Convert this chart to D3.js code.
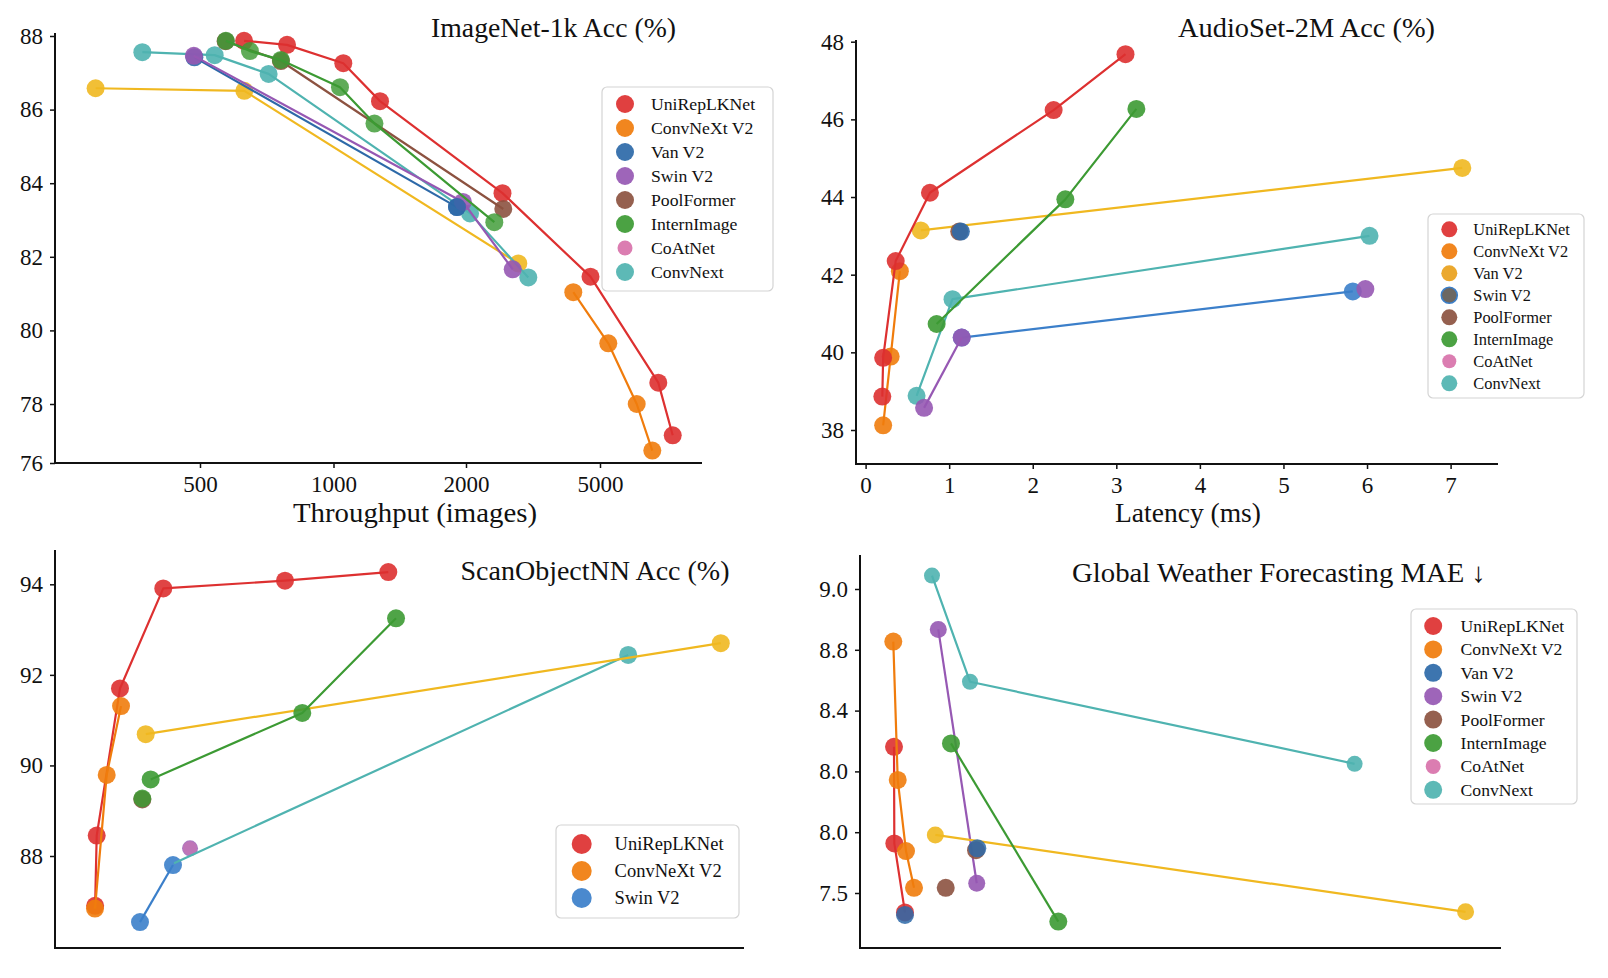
<!DOCTYPE html>
<html><head><meta charset="utf-8">
<script src="https://cdn.jsdelivr.net/npm/d3@7"></script>
<style>
html,body{margin:0;padding:0;background:#fff;}
svg{display:block;}
</style></head><body>
<svg id="chart" width="1608" height="978"></svg>
<script>
// ================= DATA =================
// Panel 1: ImageNet-1k  (x: throughput, y: accuracy %)
const in1kXTicks = [500, 1000, 2000, 5000];
const in1kYTicks = [76, 78, 80, 82, 84, 86, 88];
const in1kUniRep      = [[665,87.87],[826,87.76],[1074,87.26],[1351,86.23],[2817,83.73],[4787,81.46],[6305,78.58],[6628,76.94]];
const in1kConvNeXtV2  = [[4402,81.04],[5186,79.65],[5822,78.0],[6171,76.42]];
const in1kGold        = [[109,86.58],[666,86.51],[3171,81.82]];
const in1kConvNext    = [[284,87.56],[555,87.48],[757,86.97],[2090,83.18],[3395,81.44]];
const in1kSwinV2      = [[477,87.46],[1977,83.49],[3046,81.66]];
const in1kVanV2       = [[479,87.42],[1932,83.35]];
const in1kPoolFormer  = [[596,87.86],[803,87.32],[2835,83.30]];
const in1kInternImage = [[597,87.87],[687,87.59],[803,87.35],[1049,86.61],[1309,85.62],[2634,82.94]];
const in1kVanV2Top    = [[1932,83.35]];

// Panel 2: AudioSet-2M  (x: latency ms, y: accuracy %)
const asXTicks = [0, 1, 2, 3, 4, 5, 6, 7];
const asYTicks = [38, 40, 42, 44, 46, 48];
const asUniRep      = [[0.20,38.86],[0.21,39.86],[0.36,42.35],[0.77,44.11],[2.25,46.24],[3.11,47.68]];
const asConvNeXtV2  = [[0.21,38.12],[0.30,39.89],[0.41,42.09]];
const asGold        = [[0.66,43.14],[7.14,44.75]];
const asBlueLine    = [[1.15,40.38],[5.83,41.57]];
const asSwinV2      = [[0.70,38.57],[1.15,40.38]];
const asSwinV2Dot   = [[5.98,41.63]];
const asInternImage = [[0.85,40.73],[2.39,43.94],[3.24,46.27]];
const asConvNext    = [[0.61,38.88],[1.04,41.37],[6.03,43.00]];
const asPoolFormerDot = [[1.12,43.11]];
const asBlueDot     = [[1.14,43.11]];

// Panel 3: ScanObjectNN  (x: unlabelled, y: accuracy %)
const soYTicks = [88, 90, 92, 94];
const soUniRep      = [[5.85,86.90],[6.08,88.45],[9.46,91.70],[15.74,93.91],[33.40,94.08],[48.39,94.27]];
const soConvNeXtV2  = [[5.83,86.84],[7.53,89.79],[9.61,91.31]];
const soGold        = [[13.19,90.69],[96.63,92.70]];
const soInternImage = [[13.91,89.69],[35.91,91.16],[49.51,93.25]];
const soInternImageDot = [[12.70,89.27]];
const soPoolFormerDot  = [[12.70,89.25]];
const soSwinV2      = [[12.36,86.54],[17.15,87.80]];
const soPurpleDot   = [[19.62,88.17]];
const soConvNext    = [[17.30,87.84],[83.20,92.44]];

// Panel 4: Global Weather Forecasting MAE  (x: unlabelled, y: MAE, labels as printed)
const wfYTicks  = [9.0, 8.8, 8.6, 8.4, 8.2, 8.0];
const wfYLabels = ["9.0", "8.8", "8.4", "8.0", "8.0", "7.5"];
const wfConvNext    = [[11.28,9.044],[17.20,8.695],[77.13,8.425]];
const wfSwinV2      = [[12.26,8.867],[18.25,8.032]];
const wfConvNeXtV2  = [[5.25,8.827],[5.94,8.372],[7.23,8.138],[8.48,8.017]];
const wfUniRep      = [[5.36,8.481],[5.41,8.163],[7.07,7.936]];
const wfGold        = [[11.80,8.191],[94.42,7.938]];
const wfInternImage = [[14.24,8.492],[30.96,7.906]];
const wfPoolFormerDot = [[13.42,8.017],[18.14,8.141]];
const wfVanV2Dot    = [[7.07,7.928],[18.34,8.147]];

const legendNames8 = ["UniRepLKNet","ConvNeXt V2","Van V2","Swin V2","PoolFormer","InternImage","CoAtNet","ConvNext"];
const legendNames3 = ["UniRepLKNet","ConvNeXt V2","Swin V2"];

// ================= STYLE =================
const FONT = '"Liberation Serif","Times New Roman",Times,serif';
const C = {red:'#dd3030', orange:'#f07c0c', van:'#2d69a8', purple:'#9658b3', brown:'#8c5240',
  green:'#3c9a33', pink:'#d872aa', teal:'#4fb3b0', gold:'#f0b820', amber:'#e9a11c',
  swinBlue:'#3b7fca', slate:'#5f5a55', ink:'#111'};

const svg = d3.select('#chart');

function drawPanel(cfg) {
  const g = svg.append('g');
  const b = cfg.box;
  // y axis ticks
  const ya = d3.axisLeft(cfg.y).tickValues(cfg.yTicks).tickSize(5).tickPadding(7)
    .tickFormat(cfg.yLabels ? ((d, i) => cfg.yLabels[i]) : (d => String(d)));
  const yg = g.append('g').attr('transform', `translate(${b.x0},0)`).call(ya);
  yg.select('.domain').remove();
  yg.attr('font-size', 23).attr('font-family', FONT).attr('color', C.ink);
  yg.selectAll('line').attr('stroke-width', 1.5);
  if (cfg.xTicks) {
    const xa = d3.axisBottom(cfg.x).tickValues(cfg.xTicks).tickSize(5).tickPadding(8)
      .tickFormat(d => String(d));
    const xg = g.append('g').attr('transform', `translate(0,${b.y1})`).call(xa);
    xg.select('.domain').remove();
    xg.attr('font-size', 23).attr('font-family', FONT).attr('color', C.ink);
    xg.selectAll('line').attr('stroke-width', 1.5);
  }
  // spines
  g.append('line').attr('x1', b.x0).attr('x2', b.x0).attr('y1', b.y0).attr('y2', b.y1)
    .attr('stroke', C.ink).attr('stroke-width', 2);
  g.append('line').attr('x1', b.x0 - 1).attr('x2', b.x1).attr('y1', b.y1).attr('y2', b.y1)
    .attr('stroke', C.ink).attr('stroke-width', 2);

  const line = d3.line().x(d => cfg.x(d[0])).y(d => cfg.y(d[1]));
  cfg.layers.forEach(L => {
    const lg = g.append('g');
    if (L.line !== false && L.data.length > 1) {
      lg.append('path').attr('d', line(L.data)).attr('fill', 'none')
        .attr('stroke', L.stroke || L.color).attr('stroke-width', 2.2).attr('stroke-linejoin', 'round');
    }
    lg.selectAll('circle').data(L.data).join('circle')
      .attr('cx', d => cfg.x(d[0])).attr('cy', d => cfg.y(d[1]))
      .attr('r', (d, i) => (L.firstR !== undefined && i === 0) ? L.firstR : (L.r || 9))
      .attr('fill', L.color).attr('fill-opacity', L.alpha || 0.9);
  });

  // title
  g.append('text').attr('x', cfg.title.x).attr('y', cfg.title.y).text(cfg.title.text)
    .attr('font-family', FONT).attr('font-size', 28).attr('fill', C.ink)
    .attr('textLength', cfg.title.w).attr('lengthAdjust', 'spacingAndGlyphs');
  if (cfg.xlabel) {
    g.append('text').attr('x', cfg.xlabel.x).attr('y', cfg.xlabel.y).text(cfg.xlabel.text)
      .attr('font-family', FONT).attr('font-size', 28).attr('fill', C.ink)
      .attr('textLength', cfg.xlabel.w).attr('lengthAdjust', 'spacingAndGlyphs');
  }
  // legend
  const lgd = cfg.legend;
  g.append('rect').attr('x', lgd.box[0]).attr('y', lgd.box[1])
    .attr('width', lgd.box[2] - lgd.box[0]).attr('height', lgd.box[3] - lgd.box[1])
    .attr('rx', 5).attr('fill', '#fff').attr('fill-opacity', 0.95)
    .attr('stroke', '#d4d4d4').attr('stroke-width', 1.2);
  lgd.names.forEach((n, i) => {
    const cy = lgd.y0 + i * lgd.dy;
    const e = lgd.entries[i];
    g.append('circle').attr('cx', lgd.mx).attr('cy', cy).attr('r', e.r || lgd.r)
      .attr('fill', e.color).attr('fill-opacity', 0.92)
      .attr('stroke', e.stroke || 'none').attr('stroke-width', e.stroke ? 1.6 : 0);
    g.append('text').attr('x', lgd.tx).attr('y', cy).attr('dy', '0.34em').text(n)
      .attr('font-family', FONT).attr('font-size', lgd.fs).attr('fill', C.ink);
  });
}

// ---------- Panel 1 ----------
drawPanel({
  box: {x0: 55, x1: 702, y0: 33, y1: 463},
  x: d3.scaleLinear().domain(in1kXTicks).range([200, 333.5, 466, 600]),
  y: d3.scaleLinear().domain([76, 78, 88]).range([463, 404, 36]),
  xTicks: in1kXTicks, yTicks: in1kYTicks,
  layers: [
    {data: in1kGold, color: C.gold},
    {data: in1kConvNext, color: C.teal},
    {data: in1kVanV2, color: C.van},
    {data: in1kSwinV2, color: C.purple},
    {data: in1kUniRep, color: C.red},
    {data: in1kPoolFormer, color: C.brown},
    {data: in1kInternImage, color: C.green, alpha: 0.82},
    {data: in1kConvNeXtV2, color: C.orange},
    {data: in1kVanV2Top, color: C.van, line: false, alpha: 0.85}
  ],
  title: {text: 'ImageNet-1k Acc (%)', x: 431, y: 37, w: 245},
  xlabel: {text: 'Throughput (images)', x: 293, y: 522, w: 244},
  legend: {box: [602, 87, 773, 291], names: legendNames8, y0: 104, dy: 24, mx: 625, tx: 651, fs: 17.7, r: 9,
    entries: [{color: C.red}, {color: C.orange}, {color: C.van}, {color: C.purple}, {color: C.brown},
              {color: C.green}, {color: C.pink, r: 7.5}, {color: C.teal}]}
});

// ---------- Panel 2 ----------
drawPanel({
  box: {x0: 856, x1: 1498, y0: 40, y1: 464},
  x: d3.scaleLinear().domain([0, 7]).range([865.6, 1450.6]),
  y: d3.scaleLinear().domain([38, 48]).range([430, 41.7]),
  xTicks: asXTicks, yTicks: asYTicks,
  layers: [
    {data: asConvNext, color: C.teal},
    {data: asBlueLine, color: C.swinBlue},
    {data: asSwinV2, color: C.purple},
    {data: asSwinV2Dot, color: C.purple, line: false},
    {data: asGold, color: C.gold},
    {data: asConvNeXtV2, color: C.orange},
    {data: asUniRep, color: C.red},
    {data: asInternImage, color: C.green},
    {data: asPoolFormerDot, color: C.brown, line: false},
    {data: asBlueDot, color: C.van, line: false}
  ],
  title: {text: 'AudioSet-2M Acc (%)', x: 1178, y: 37, w: 257},
  xlabel: {text: 'Latency (ms)', x: 1115, y: 522, w: 146},
  legend: {box: [1428, 214, 1584, 398], names: legendNames8, y0: 229.3, dy: 22, mx: 1449.3, tx: 1473.3, fs: 16.4, r: 8,
    entries: [{color: C.red}, {color: C.orange}, {color: C.amber}, {color: C.slate, stroke: C.swinBlue}, {color: C.brown},
              {color: C.green}, {color: C.pink, r: 7}, {color: C.teal}]}
});

// ---------- Panel 3 ----------
drawPanel({
  box: {x0: 55, x1: 744, y0: 550, y1: 948},
  x: d3.scaleLinear().domain([0, 100]).range([54.8, 744]),
  y: d3.scaleLinear().domain([88, 94]).range([856, 584.3]),
  yTicks: soYTicks,
  layers: [
    {data: soSwinV2, color: C.swinBlue},
    {data: soPurpleDot, color: C.purple, line: false, r: 8, alpha: 0.8},
    {data: soPurpleDot, color: C.pink, line: false, r: 7, alpha: 0.45},
    {data: soConvNext, color: C.teal, firstR: 0},
    {data: soGold, color: C.gold},
    {data: soPoolFormerDot, color: C.brown, line: false},
    {data: soInternImage, color: C.green},
    {data: soInternImageDot, color: C.green, line: false, alpha: 0.85},
    {data: soUniRep, color: C.red},
    {data: soConvNeXtV2, color: C.orange}
  ],
  title: {text: 'ScanObjectNN Acc (%)', x: 460.5, y: 580, w: 269},
  legend: {box: [556, 825, 739, 918], names: legendNames3, y0: 844, dy: 27, mx: 581.7, tx: 614.6, fs: 18.5, r: 10,
    entries: [{color: C.red}, {color: C.orange}, {color: C.swinBlue}]}
});

// ---------- Panel 4 ----------
drawPanel({
  box: {x0: 860, x1: 1501, y0: 555, y1: 948},
  x: d3.scaleLinear().domain([0, 100]).range([859.6, 1501.4]),
  y: d3.scaleLinear().domain([8.0, 9.0]).range([893, 589]),
  yTicks: wfYTicks, yLabels: wfYLabels,
  layers: [
    {data: wfConvNext, color: C.teal, r: 8},
    {data: wfSwinV2, color: C.purple, r: 8.5},
    {data: wfUniRep, color: C.red},
    {data: wfConvNeXtV2, color: C.orange},
    {data: wfGold, color: C.gold, r: 8.5},
    {data: wfInternImage, color: C.green},
    {data: wfPoolFormerDot, color: C.brown, line: false},
    {data: wfVanV2Dot, color: C.van, line: false, alpha: 0.85}
  ],
  title: {text: 'Global Weather Forecasting MAE \u2193', x: 1072, y: 582, w: 414},
  legend: {box: [1411, 609, 1577, 804], names: legendNames8, y0: 626, dy: 23.4, mx: 1433.2, tx: 1460.6, fs: 17.6, r: 9,
    entries: [{color: C.red}, {color: C.orange}, {color: C.van}, {color: C.purple}, {color: C.brown},
              {color: C.green}, {color: C.pink, r: 7.5}, {color: C.teal}]}
});
</script>
</body></html>
